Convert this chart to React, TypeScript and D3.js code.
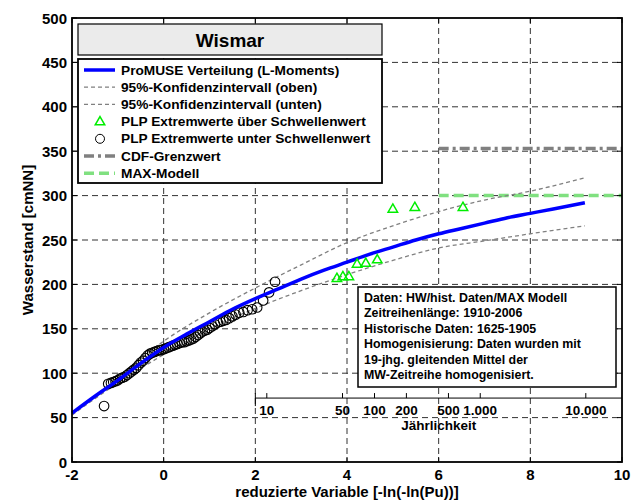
import React from 'react';
import * as d3 from 'd3';

// reduced variate ticks and water level ticks
const reducedTicks = [-2, 0, 2, 4, 6, 8, 10];
const levelTicks = [0, 50, 100, 150, 200, 250, 300, 350, 400, 450, 500];

// ProMUSE distribution (L-Moments) and its 95% bounds
const fitX = [-2, -1.5, -1, -0.5, 0, 0.5, 1, 1.5, 2, 2.5, 3, 3.5, 4, 4.5, 5, 5.5, 6, 6.5, 7, 7.5, 8, 8.5, 9.19];
const fitY = [55, 74, 92, 111, 129, 144, 158, 172, 184, 195, 206, 216, 225, 234, 242, 250, 257, 263, 269, 275, 280, 285, 292];
const upperX = [-2, -1, 0, 1, 2, 3, 4, 5, 6, 7, 8, 9.19];
const upperY = [54, 95, 136, 168, 196, 222, 247, 266, 282, 295, 305, 320];
const lowerX = [-2, -1, 0, 1, 2, 3, 4, 5, 6, 7, 8, 9.19];
const lowerY = [53, 89, 121, 150, 173, 193, 211, 227, 241, 249, 257, 266];

// plotting positions below threshold (circles)
const belowX = [-1.3, -1.21, -1.15, -1.1, -1.05, -1, -0.95, -0.9, -0.85, -0.8, -0.75, -0.7, -0.65, -0.6, -0.55, -0.5,
  -0.45, -0.4, -0.35, -0.3, -0.25, -0.2, -0.15, -0.1, -0.05, 0, 0.05, 0.1, 0.15, 0.2, 0.25, 0.3, 0.35, 0.4, 0.45,
  0.5, 0.55, 0.6, 0.65, 0.7, 0.75, 0.8, 0.85, 0.9, 0.95, 1, 1.06, 1.12, 1.18, 1.24, 1.3, 1.36, 1.43, 1.5, 1.57,
  1.65, 1.74, 1.83, 1.93, 2.04, 2.17, 2.3, 2.43];
const belowY = [63, 88, 89, 90, 91, 92, 94, 95, 96, 98, 100, 102, 104, 106, 109, 112,
  114, 117, 120, 122, 123, 124, 125, 126, 126, 127, 128, 129, 130, 131, 132, 133, 134, 135, 135,
  136, 137, 138, 139, 141, 143, 145, 147, 148, 149, 151, 153, 155, 157, 158, 159, 160, 162, 164, 166,
  168, 169, 171, 172, 174, 182, 191, 203];

// plotting positions above threshold (triangles)
const aboveX = [3.78, 3.91, 4.04, 4.22, 4.41, 4.66, 5.0, 5.48, 6.53];
const aboveY = [207, 209, 209, 223, 224, 228, 285, 287, 287];

// horizontal limits
const cdfLimit = 353;
const maxModel = 300;
const limitStart = 6;

// return period axis
const returnPeriods = [10, 50, 100, 200, 500, 1000, 10000];
const returnLabels = ['10', '50', '100', '200', '500', '1.000', '10.000'];

const legendLabels = [
  'ProMUSE Verteilung (L-Moments)',
  '95%-Konfidenzintervall (oben)',
  '95%-Konfidenzintervall (unten)',
  'PLP Extremwerte über Schwellenwert',
  'PLP Extremwerte unter Schwellenwert',
  'CDF-Grenzwert',
  'MAX-Modell',
];

const infoLines = [
  'Daten: HW/hist. Daten/MAX Modell',
  'Zeitreihenlänge: 1910-2006',
  'Historische Daten: 1625-1905',
  'Homogenisierung: Daten wurden mit',
  '19-jhg. gleitenden Mittel der',
  'MW-Zeitreihe homogenisiert.',
];

const W = 641;
const H = 501;
const margin = { left: 72, top: 18, right: 19, bottom: 39 };
const font = '"Liberation Sans", Arial, sans-serif';

const BLUE = '#0000ff';
const GREY = '#808080';
const GREEN = '#00ee00';
const LGREEN = '#80e080';

function triangle(cx: number, cy: number, s: number) {
  return `M${cx},${cy - s}L${cx + s * 0.95},${cy + s * 0.65}L${cx - s * 0.95},${cy + s * 0.65}Z`;
}

export default function App() {
  const x = d3.scaleLinear().domain([-2, 10]).range([margin.left, W - margin.right]);
  const y = d3.scaleLinear().domain([0, 500]).range([H - margin.bottom, margin.top]);

  const line = d3.line<[number, number]>()
    .x((d) => x(d[0]))
    .y((d) => y(d[1]))
    .curve(d3.curveMonotoneX);

  const fitPath = line(fitX.map((v, i) => [v, fitY[i]]));
  const upperPath = line(upperX.map((v, i) => [v, upperY[i]]));
  const lowerPath = line(lowerX.map((v, i) => [v, lowerY[i]]));

  const gumbel = (T: number) => -Math.log(-Math.log(1 - 1 / T));
  const secY = y(72);

  const x0 = margin.left;
  const x1 = W - margin.right;
  const y0 = margin.top;
  const y1 = H - margin.bottom;

  return (
    <svg width={W} height={H} style={{ position: 'absolute', left: 0, top: 0, background: '#fff' }} fontFamily={font}>
      <rect x={0} y={0} width={W} height={H} fill="#fff" />

      {/* grid */}
      <g stroke="#333" strokeWidth={1} strokeDasharray="6,4">
        {reducedTicks.slice(1, -1).map((t) => (
          <line key={'gx' + t} x1={x(t)} x2={x(t)} y1={y0} y2={y1} />
        ))}
        {levelTicks.slice(1, -1).map((t) => (
          <line key={'gy' + t} x1={x0} x2={x1} y1={y(t)} y2={y(t)} />
        ))}
      </g>

      {/* limits */}
      <line x1={x(limitStart)} x2={x1} y1={y(cdfLimit)} y2={y(cdfLimit)} stroke={GREY} strokeWidth={3.5} strokeDasharray="10,4,3,4" />
      <line x1={x(limitStart)} x2={x1} y1={y(maxModel)} y2={y(maxModel)} stroke={LGREEN} strokeWidth={3.5} strokeDasharray="10,5" />

      {/* confidence bands and fit */}
      <path d={upperPath ?? ''} fill="none" stroke={GREY} strokeWidth={1.3} strokeDasharray="4,3" />
      <path d={lowerPath ?? ''} fill="none" stroke={GREY} strokeWidth={1.3} strokeDasharray="4,3" />

      {/* observations */}
      <g fill="none" stroke="#000" strokeWidth={1.1}>
        {belowX.map((v, i) => (
          <circle key={'c' + i} cx={x(v)} cy={y(belowY[i])} r={4.8} />
        ))}
      </g>
      <path d={fitPath ?? ''} fill="none" stroke={BLUE} strokeWidth={3.5} />
      <g fill="none" stroke={GREEN} strokeWidth={1.5}>
        {aboveX.map((v, i) => (
          <path key={'t' + i} d={triangle(x(v), y(aboveY[i]), 5)} />
        ))}
      </g>

      {/* return period axis */}
      <g stroke="#000" strokeWidth={1}>
        <line x1={x(2)} x2={x1} y1={secY} y2={secY} />
        <line x1={x(2)} x2={x(2)} y1={secY - 5} y2={secY + 8} />
        {returnPeriods.map((T) => (
          <line key={'rt' + T} x1={x(gumbel(T))} x2={x(gumbel(T))} y1={secY} y2={secY - 5} />
        ))}
      </g>
      <g fontSize={13.5} fontWeight="bold" textAnchor="middle" fill="#000">
        {returnPeriods.map((T, i) => (
          <text key={'rl' + T} x={x(gumbel(T))} y={secY + 12} dominantBaseline="central">
            {returnLabels[i]}
          </text>
        ))}
        <text x={(x(2) + x1) / 2} y={secY + 27} dominantBaseline="central">Jährlichkeit</text>
      </g>

      {/* info box */}
      <rect x={358} y={287} width={258} height={100} fill="#fff" stroke="#000" strokeWidth={1.5} />
      <g fontSize={12.4} fontWeight="bold" fill="#000">
        {infoLines.map((s, i) => (
          <text key={'i' + i} x={364} y={298 + i * 15.4} dominantBaseline="central">{s}</text>
        ))}
      </g>

      {/* frame and ticks */}
      <rect x={x0} y={y0} width={x1 - x0} height={y1 - y0} fill="none" stroke="#000" strokeWidth={1.8} />
      <g stroke="#000" strokeWidth={1}>
        {reducedTicks.map((t) => (
          <g key={'xt' + t}>
            <line x1={x(t)} x2={x(t)} y1={y1} y2={y1 - 5} />
            <line x1={x(t)} x2={x(t)} y1={y0} y2={y0 + 5} />
          </g>
        ))}
        {levelTicks.map((t) => (
          <g key={'yt' + t}>
            <line x1={x0} x2={x0 + 5} y1={y(t)} y2={y(t)} />
            <line x1={x1} x2={x1 - 5} y1={y(t)} y2={y(t)} />
          </g>
        ))}
      </g>
      <g fontSize={15} fontWeight="bold" fill="#000">
        {reducedTicks.map((t) => (
          <text key={'xl' + t} x={x(t)} y={y1 + 12} textAnchor="middle" dominantBaseline="central">{t}</text>
        ))}
        {levelTicks.map((t) => (
          <text key={'yl' + t} x={x0 - 5} y={y(t)} textAnchor="end" dominantBaseline="central">{t}</text>
        ))}
        <text x={(x0 + x1) / 2} y={y1 + 29} textAnchor="middle" dominantBaseline="central">
          reduzierte Variable [-ln(-ln(Pu))]
        </text>
        <text transform={`translate(27,${(y0 + y1) / 2}) rotate(-90)`} textAnchor="middle" dominantBaseline="central">
          Wasserstand [cmNN]
        </text>
      </g>

      {/* title */}
      <rect x={78} y={24} width={304} height={31} fill="#ebebeb" stroke="#000" strokeWidth={1.2} />
      <text x={230} y={40} textAnchor="middle" dominantBaseline="central" fontSize={19} fontWeight="bold">Wismar</text>

      {/* legend */}
      <rect x={78} y={59} width={304} height={124} fill="#fff" stroke="#000" strokeWidth={1.8} />
      {legendLabels.map((label, i) => {
        const ly = 70 + i * 17.2;
        let sample: React.ReactNode = null;
        if (i === 0) sample = <line x1={84} x2={115} y1={ly} y2={ly} stroke={BLUE} strokeWidth={3.5} />;
        if (i === 1 || i === 2) sample = <line x1={84} x2={115} y1={ly} y2={ly} stroke={GREY} strokeWidth={1.3} strokeDasharray="4,3" />;
        if (i === 3) sample = <path d={triangle(100, ly, 5)} fill="none" stroke={GREEN} strokeWidth={1.5} />;
        if (i === 4) sample = <circle cx={100} cy={ly} r={4.5} fill="none" stroke="#000" />;
        if (i === 5) sample = <line x1={84} x2={115} y1={ly} y2={ly} stroke={GREY} strokeWidth={3.5} strokeDasharray="10,4,3,4" />;
        if (i === 6) sample = <line x1={84} x2={115} y1={ly} y2={ly} stroke={LGREEN} strokeWidth={3.5} strokeDasharray="10,5" />;
        return (
          <g key={'lg' + i}>
            {sample}
            <text x={121} y={ly} dominantBaseline="central" fontSize={13.7} fontWeight="bold">{label}</text>
          </g>
        );
      })}
    </svg>
  );
}
